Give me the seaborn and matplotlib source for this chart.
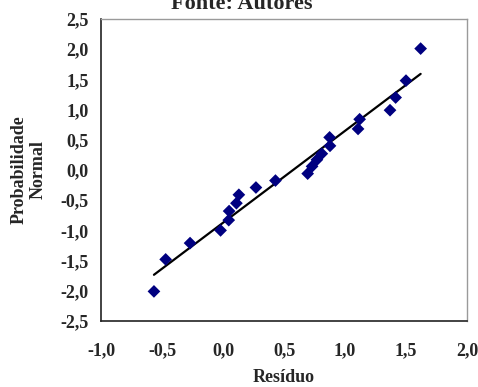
"""Normal probability plot of residuals (Excel-style) recreated with seaborn."""

import matplotlib
matplotlib.use("Agg")
import matplotlib.pyplot as plt
import matplotlib.ticker as mticker
import numpy as np
import pandas as pd
import seaborn as sns

# residuals (x) and their normal scores (y)
residuo = [-0.566, -0.47, -0.27, -0.02, 0.047, 0.05, 0.11, 0.13, 0.27, 0.43, 0.694,
           0.73, 0.77, 0.81, 0.877, 0.874, 1.107, 1.12, 1.369, 1.415, 1.50, 1.62]
prob_normal = [-2.01, -1.48, -1.21, -1.00, -0.83, -0.68, -0.55, -0.41, -0.29, -0.175, -0.06,
               0.06, 0.17, 0.27, 0.40, 0.54, 0.68, 0.84, 0.99, 1.20, 1.48, 2.01]

title = "Fonte: Autores"
x_label = "Resíduo"
y_label = "Probabilidade\nNormal"

sns.set_style("white")
plt.rcParams["font.family"] = ["Liberation Serif", "DejaVu Serif"]
plt.rcParams["font.weight"] = "bold"

df = pd.DataFrame({"Resíduo": residuo, "Prob": prob_normal})

fig = plt.figure(figsize=(4.78, 3.87), dpi=100)
ax = fig.add_axes([101 / 478, 1 - 321 / 387, 366 / 478, 302 / 387])

sns.regplot(
    data=df, x="Resíduo", y="Prob", ax=ax, ci=None, marker="D",
    scatter_kws={"s": 42, "color": "#000080", "edgecolor": "none", "alpha": 1, "zorder": 3},
    line_kws={"color": "black", "lw": 1.6, "zorder": 2},
)

ax.set_xlim(-1.0, 2.0)
ax.set_ylim(-2.5, 2.5)
ax.xaxis.set_major_locator(mticker.MultipleLocator(0.5))
ax.xaxis.set_minor_locator(mticker.MultipleLocator(0.1))
ax.yaxis.set_major_locator(mticker.MultipleLocator(0.5))
ax.yaxis.set_minor_locator(mticker.MultipleLocator(0.1))
fmt = mticker.FuncFormatter(lambda v, _: f"{v:.1f}".replace(".", ","))
ax.xaxis.set_major_formatter(fmt)
ax.yaxis.set_major_formatter(fmt)

ax.tick_params(which="major", direction="inout", length=6.5, width=1, color="#222222",
               labelsize=13)
ax.tick_params(which="minor", direction="in", length=3, width=1, color="#222222")
ax.tick_params(axis="x", which="major", pad=12)
ax.tick_params(axis="y", which="major", pad=5.5)
for lab in ax.get_xticklabels() + ax.get_yticklabels():
    lab.set_fontweight("bold")

for side in ["left", "bottom"]:
    ax.spines[side].set_color("#222222")
    ax.spines[side].set_linewidth(1.2)
for side in ["top", "right"]:
    ax.spines[side].set_color("#9a9a9a")
    ax.spines[side].set_linewidth(1.0)

ax.set_xlabel(x_label, fontsize=13, fontweight="bold")
ax.set_ylabel(y_label, fontsize=13, fontweight="bold")
ax.xaxis.set_label_coords(0.5, -0.158)
ax.yaxis.set_label_coords(-0.148, 0.5)

fig.text(0.505, 1 - 9 / 387, title, ha="center", va="baseline",
         fontsize=16, fontweight="bold")

fig.savefig("out.png", dpi=100)
plt.close(fig)
